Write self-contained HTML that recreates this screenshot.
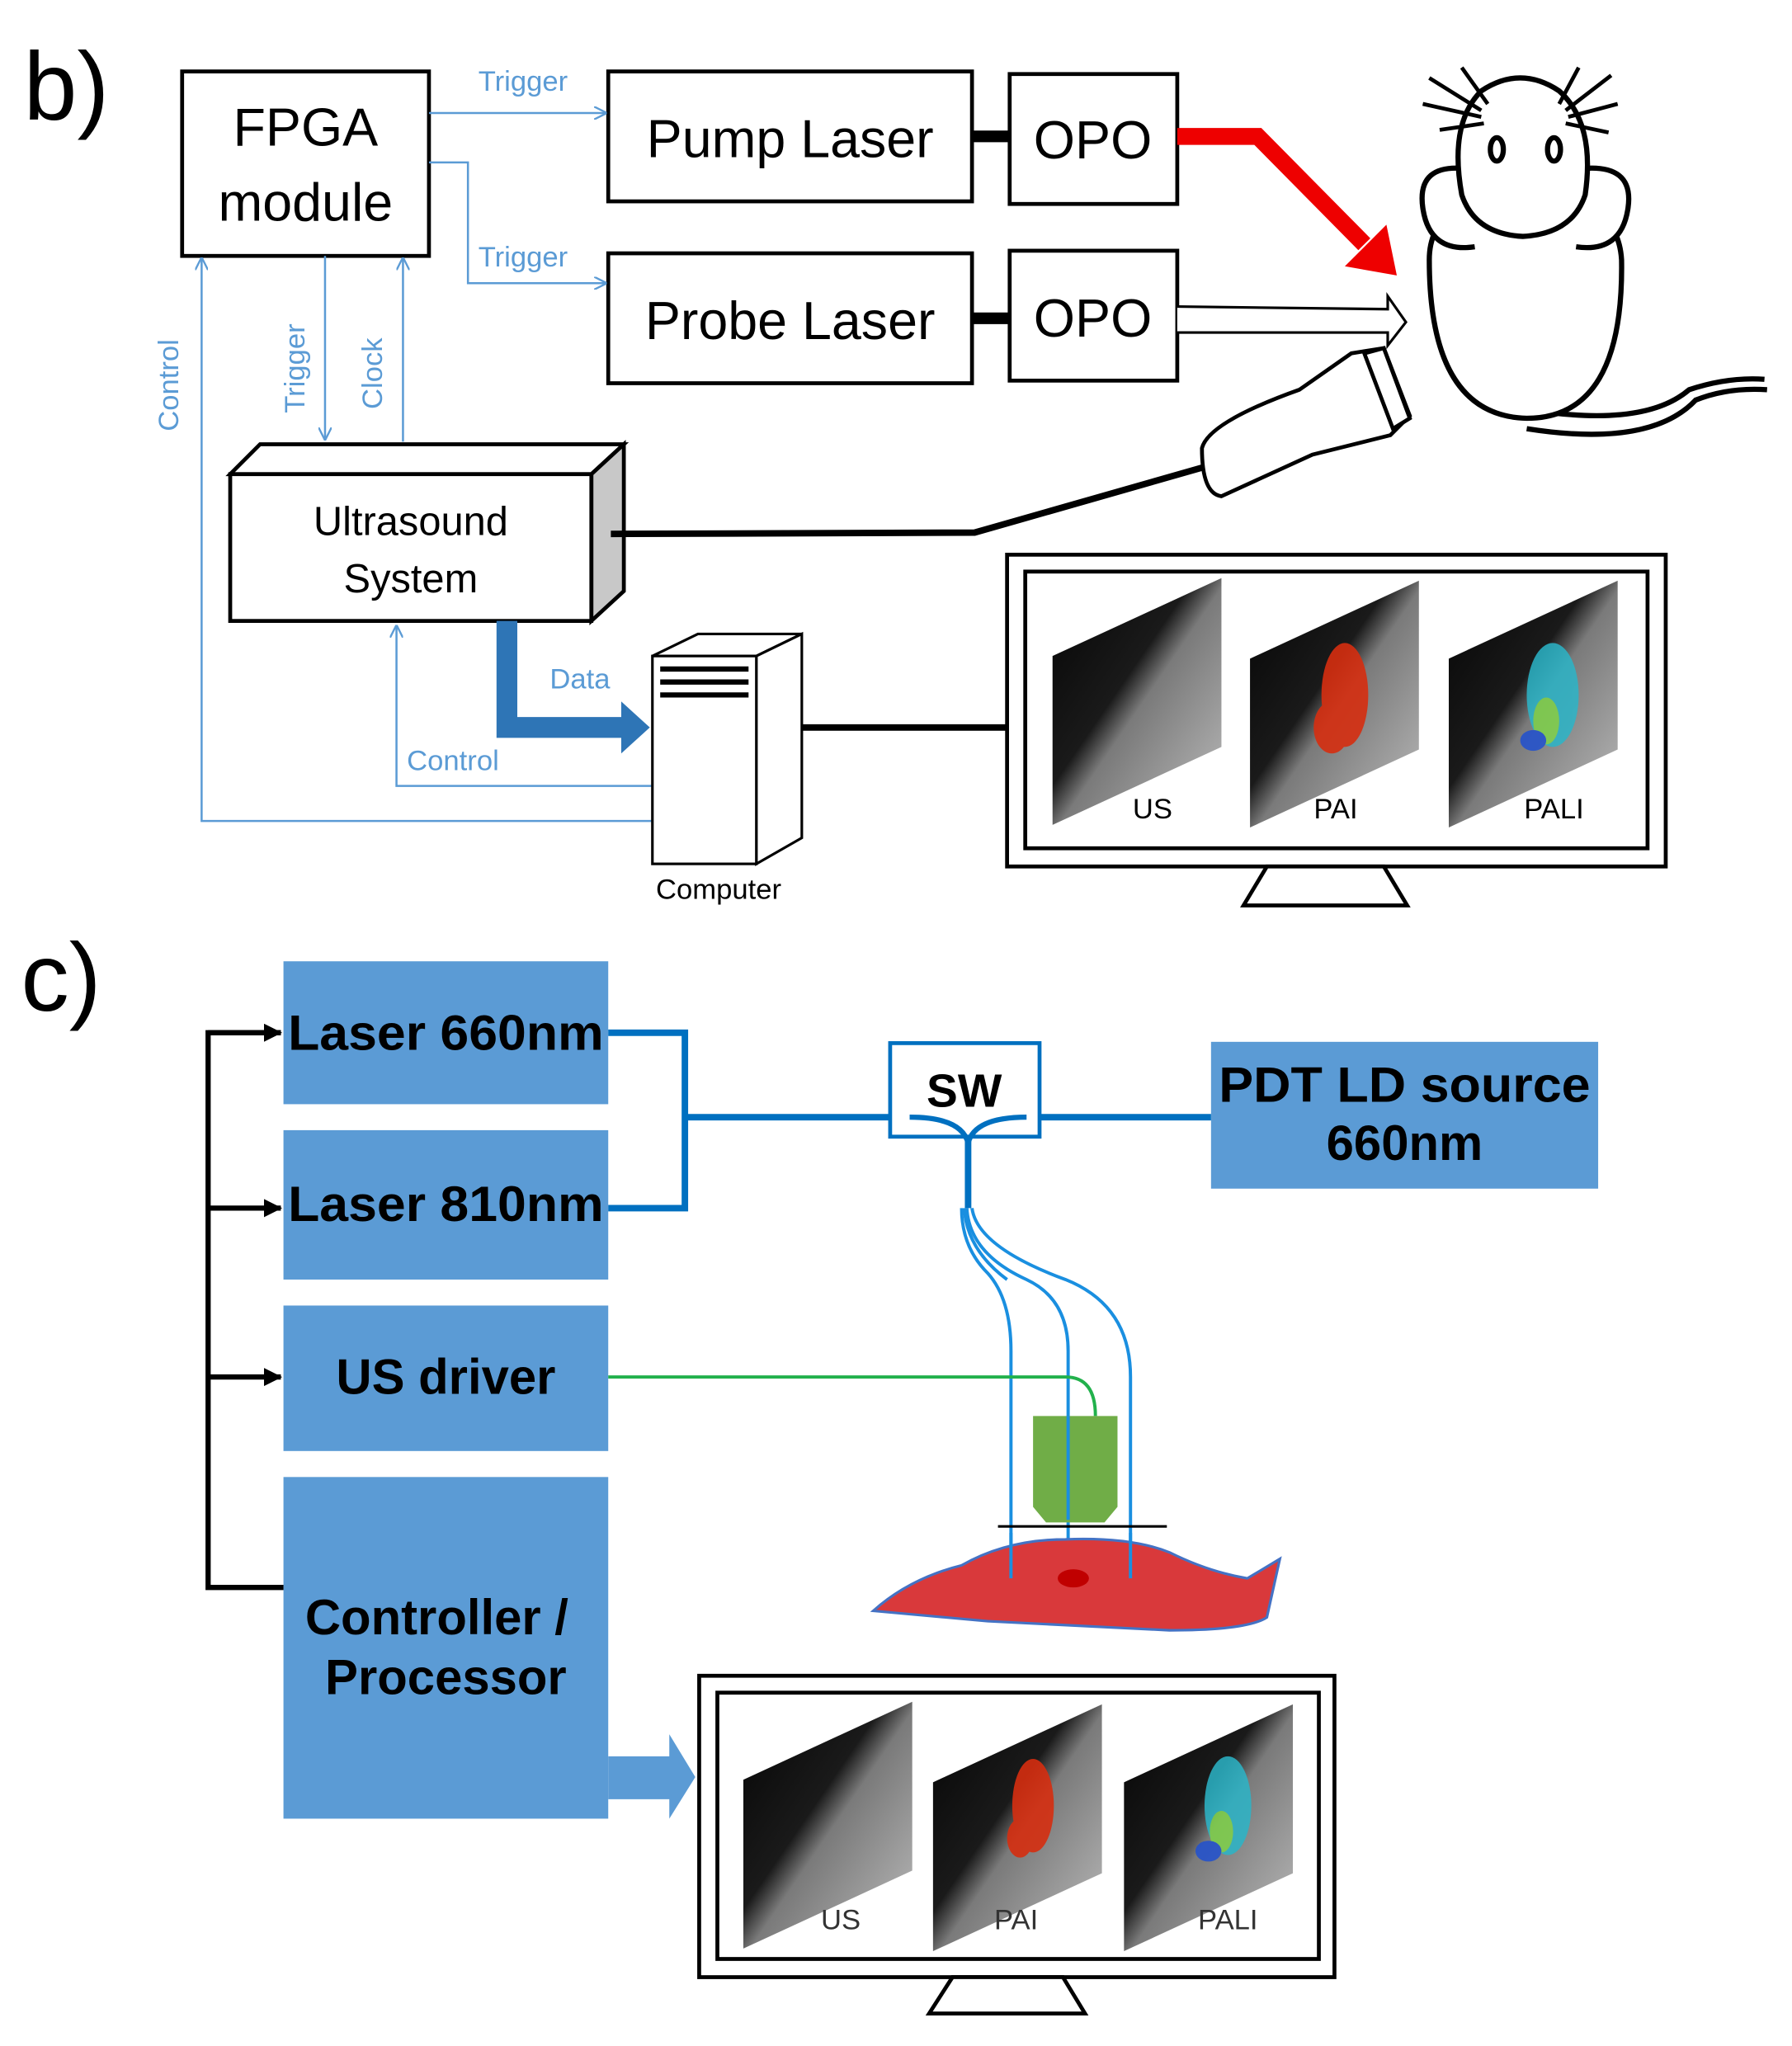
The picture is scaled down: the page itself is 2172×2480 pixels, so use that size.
<!DOCTYPE html>
<html><head><meta charset="utf-8">
<style>html,body{margin:0;padding:0;background:#fff}svg{display:block}</style>
</head><body>
<svg width="2172" height="2480" viewBox="0 0 1379 1575" xmlns="http://www.w3.org/2000/svg" font-family="Liberation Sans, sans-serif">
<defs>
<linearGradient id="us" x1="0" y1="0" x2="1" y2="1">
<stop offset="0" stop-color="#050505"/><stop offset="0.42" stop-color="#1a1a1a"/><stop offset="0.52" stop-color="#7a7a7a"/><stop offset="1" stop-color="#bdbdbd"/>
</linearGradient>
<marker id="ab" markerWidth="10" markerHeight="10" refX="9" refY="5" orient="auto" markerUnits="userSpaceOnUse"><path d="M0,0 L10,5 L0,10" fill="none" stroke="#5b9bd5" stroke-width="1.5"/></marker>
<marker id="ak" markerWidth="14" markerHeight="14" refX="13" refY="7" orient="auto" markerUnits="userSpaceOnUse"><path d="M0,0 L14,7 L0,14 Z" fill="#000"/></marker>
<g id="img">
<polygon points="0,60 130,0 130,130 0,190" fill="url(#us)"/>
</g>
</defs>
<rect width="1379" height="1575" fill="#fff"/>
<!-- b) -->
<text x="18" y="92" font-size="74">b)</text>
<g fill="none" stroke="#000" stroke-width="3">
<rect x="140" y="55" width="190" height="142"/>
<rect x="468" y="55" width="280" height="100"/>
<rect x="777" y="57" width="129" height="100"/>
<rect x="468" y="195" width="280" height="100"/>
<rect x="777" y="193" width="129" height="100"/>
</g>
<line x1="748" y1="105" x2="777" y2="105" stroke="#000" stroke-width="9"/>
<line x1="748" y1="245" x2="777" y2="245" stroke="#000" stroke-width="9"/>
<g font-size="41" text-anchor="middle">
<text x="235" y="112">FPGA</text><text x="235" y="170">module</text>
<text x="608" y="121">Pump Laser</text><text x="841" y="122">OPO</text>
<text x="608" y="261">Probe Laser</text><text x="841" y="259">OPO</text>
</g>
<g stroke="#5b9bd5" stroke-width="1.6" fill="none">
<polyline points="330,87 466,87" marker-end="url(#ab)"/>
<polyline points="330,125 360,125 360,218 466,218" marker-end="url(#ab)"/>
<polyline points="502,632 155,632 155,199" marker-end="url(#ab)"/>
<polyline points="250,197 250,338" marker-end="url(#ab)"/>
<polyline points="310,340 310,199" marker-end="url(#ab)"/>
<polyline points="502,605 305,605 305,482" marker-end="url(#ab)"/>
</g>
<g fill="#5b9bd5" font-size="22">
<text x="368" y="70">Trigger</text><text x="368" y="205">Trigger</text>
<text x="313" y="593">Control</text><text x="423" y="530">Data</text>
<text transform="translate(137,332) rotate(-90)">Control</text>
<text transform="translate(234,318) rotate(-90)">Trigger</text>
<text transform="translate(294,315) rotate(-90)">Clock</text>
</g>
<!-- ultrasound box -->
<polygon points="177,365 200,342 480,342 455,365" fill="#fff" stroke="#000" stroke-width="3"/>
<polygon points="455,365 480,342 480,455 455,478" fill="#c8c8c8" stroke="#000" stroke-width="3"/>
<rect x="177" y="365" width="278" height="113" fill="#fff" stroke="#000" stroke-width="3"/>
<text x="316" y="412" font-size="31" text-anchor="middle">Ultrasound</text>
<text x="316" y="456" font-size="31" text-anchor="middle">System</text>
<polyline points="470,411 750,410 925,360" fill="none" stroke="#000" stroke-width="5"/>
<!-- probe -->
<path d="M925,345 Q930,325 1000,300 L1040,272 L1065,268 L1085,320 L1070,335 L1010,350 L940,382 Q925,380 925,345 Z" fill="#fff" stroke="#000" stroke-width="3"/>
<path d="M1050,272 L1065,268 L1085,322 L1072,330 Z" fill="#fff" stroke="#000" stroke-width="3"/>
<!-- red arrow -->
<polyline points="906,105 968,105 1050,188" fill="none" stroke="#e00" stroke-width="13"/>
<polygon points="1075,212 1035,205 1067,173" fill="#e00"/>
<!-- hollow arrow -->
<path d="M906,236 L1068,238 L1068,228 L1082,248 L1068,266 L1068,256 L906,256" fill="#fff" stroke="#000" stroke-width="2"/>
<!-- mouse -->
<g fill="#fff" stroke="#000" stroke-width="4">
<path d="M1175,315 Q1265,330 1300,300 Q1330,290 1358,292" fill="none"/>
<path d="M1175,330 Q1270,345 1305,308 Q1330,298 1360,300" fill="none"/>
<path d="M1100,200 Q1100,320 1175,322 Q1250,322 1248,200 Q1245,150 1175,150 Q1100,150 1100,200 Z"/>
<path d="M1130,130 Q1090,125 1095,160 Q1100,195 1135,190"/>
<path d="M1215,130 Q1258,125 1253,160 Q1248,195 1213,190"/>
<path d="M1125,150 Q1115,95 1140,70 Q1170,50 1200,70 Q1228,95 1220,150 Q1210,180 1172,182 Q1135,180 1125,150 Z"/>
</g>
<g stroke="#000" stroke-width="3">
<line x1="1140" y1="85" x2="1100" y2="60"/><line x1="1140" y1="90" x2="1095" y2="80"/><line x1="1142" y1="95" x2="1108" y2="100"/><line x1="1145" y1="80" x2="1125" y2="52"/>
<line x1="1205" y1="85" x2="1240" y2="58"/><line x1="1207" y1="90" x2="1245" y2="80"/><line x1="1205" y1="95" x2="1238" y2="102"/><line x1="1200" y1="80" x2="1215" y2="52"/>
</g>
<ellipse cx="1152" cy="115" rx="5" ry="9" fill="#fff" stroke="#000" stroke-width="4"/><ellipse cx="1196" cy="115" rx="5" ry="9" fill="#fff" stroke="#000" stroke-width="4"/>
<!-- data arrow -->
<polyline points="390,478 390,560 482,560" fill="none" stroke="#2e75b6" stroke-width="16"/>
<polygon points="500,560 478,540 478,580" fill="#2e75b6"/>
<!-- computer -->
<polygon points="502,505 537,488 617,488 582,505" fill="#fff" stroke="#000" stroke-width="2"/>
<polygon points="582,505 617,488 617,645 582,665" fill="#fff" stroke="#000" stroke-width="2"/>
<rect x="502" y="505" width="80" height="160" fill="#fff" stroke="#000" stroke-width="2"/>
<g stroke="#000" stroke-width="4"><line x1="508" y1="515" x2="576" y2="515"/><line x1="508" y1="525" x2="576" y2="525"/><line x1="508" y1="535" x2="576" y2="535"/></g>
<text x="553" y="692" font-size="22" text-anchor="middle">Computer</text>
<line x1="617" y1="560" x2="775" y2="560" stroke="#000" stroke-width="5"/>
<!-- monitor 1 -->
<rect x="775" y="427" width="507" height="240" fill="#fff" stroke="#000" stroke-width="3"/>
<rect x="789" y="440" width="479" height="213" fill="#fff" stroke="#000" stroke-width="3"/>
<polygon points="975,667 1065,667 1083,697 957,697" fill="#fff" stroke="#000" stroke-width="3"/>
<use href="#img" x="810" y="445"/>
<use href="#img" x="962" y="447"/>
<use href="#img" x="1115" y="447"/>
<g fill="#d62e10" opacity="0.9"><ellipse cx="1035" cy="535" rx="18" ry="40"/><ellipse cx="1025" cy="560" rx="14" ry="20"/></g>
<g opacity="0.85"><ellipse cx="1195" cy="535" rx="20" ry="40" fill="#2bb5c8"/><ellipse cx="1190" cy="555" rx="10" ry="18" fill="#7fd34a"/><ellipse cx="1180" cy="570" rx="10" ry="8" fill="#2050d0"/></g>
<g font-size="22" text-anchor="middle" fill="#000"><text x="887" y="630">US</text><text x="1028" y="630">PAI</text><text x="1196" y="630">PALI</text></g>
<!-- c) -->
<text x="16" y="778" font-size="74">c)</text>
<g fill="#5b9bd5">
<rect x="218" y="740" width="250" height="110"/>
<rect x="218" y="870" width="250" height="115"/>
<rect x="218" y="1005" width="250" height="112"/>
<rect x="218" y="1137" width="250" height="263"/>
<rect x="932" y="802" width="298" height="113"/>
</g>
<g font-size="38" font-weight="bold" fill="#000" text-anchor="middle">
<text x="343" y="808" textLength="243" lengthAdjust="spacingAndGlyphs">Laser 660nm</text>
<text x="343" y="940" textLength="243" lengthAdjust="spacingAndGlyphs">Laser 810nm</text>
<text x="343" y="1073">US driver</text>
<text x="336" y="1258">Controller /</text>
<text x="343" y="1304">Processor</text>
<text x="1081" y="848" textLength="286" lengthAdjust="spacingAndGlyphs">PDT LD source</text>
<text x="1081" y="893">660nm</text>
</g>
<polyline points="216,795 160,795 160,1222 218,1222" fill="none" stroke="#000" stroke-width="4"/>
<g stroke="#000" stroke-width="4" marker-end="url(#ak)"><line x1="160" y1="795" x2="216" y2="795"/><line x1="160" y1="930" x2="216" y2="930"/><line x1="160" y1="1060" x2="216" y2="1060"/></g>
<g fill="none" stroke="#0070c0" stroke-width="5">
<polyline points="468,795 527,795 527,930 468,930"/>
<line x1="527" y1="860" x2="685" y2="860"/><line x1="800" y1="860" x2="932" y2="860"/>
</g>
<rect x="685" y="803" width="115" height="72" fill="#fff" stroke="#0070c0" stroke-width="3"/>
<text x="742" y="852" font-size="36" font-weight="bold" text-anchor="middle">SW</text>
<path d="M700,860 Q740,860 745,880 Q750,860 790,860" fill="none" stroke="#0070c0" stroke-width="4"/>
<line x1="745" y1="878" x2="745" y2="930" stroke="#0070c0" stroke-width="5"/>
<g fill="none" stroke="#1a8fe0" stroke-width="2.5">
<path d="M740,930 Q740,960 760,980 Q778,1000 778,1040 L778,1215"/>
<path d="M744,930 Q746,965 790,985 Q822,1000 822,1040 L822,1210"/>
<path d="M748,930 Q752,960 820,985 Q870,1005 870,1060 L870,1215"/>
<path d="M742,930 Q744,962 775,985"/>
</g>
<path d="M468,1060 L820,1060 Q843,1060 843,1090" fill="none" stroke="#22b14c" stroke-width="2.5"/>
<path d="M795,1090 L860,1090 L860,1160 L850,1172 L805,1172 L795,1160 Z" fill="#70ad47"/>
<line x1="822" y1="1090" x2="822" y2="1170" stroke="#1a8fe0" stroke-width="2.5"/>
<line x1="768" y1="1175" x2="898" y2="1175" stroke="#000" stroke-width="2"/>
<path d="M672,1240 Q700,1215 740,1205 Q775,1185 820,1185 Q870,1183 900,1195 Q930,1210 960,1215 L985,1200 L975,1245 Q960,1255 900,1255 L760,1248 Z" fill="#d9393b" stroke="#4472c4" stroke-width="2"/>
<g stroke="#1a8fe0" stroke-width="2.5"><line x1="778" y1="1180" x2="778" y2="1215"/><line x1="870" y1="1180" x2="870" y2="1215"/></g>
<ellipse cx="826" cy="1215" rx="12" ry="7" fill="#c00000"/>
<!-- blue arrow -->
<polygon points="468,1352 515,1352 515,1335 535,1368 515,1400 515,1385 468,1385" fill="#5b9bd5"/>
<!-- monitor 2 -->
<rect x="538" y="1290" width="489" height="232" fill="#fff" stroke="#000" stroke-width="3"/>
<rect x="552" y="1303" width="463" height="205" fill="#fff" stroke="#000" stroke-width="3"/>
<polygon points="733,1522 818,1522 835,1550 715,1550" fill="#fff" stroke="#000" stroke-width="3"/>
<use href="#img" x="572" y="1310"/>
<use href="#img" x="718" y="1312"/>
<use href="#img" x="865" y="1312"/>
<g fill="#d62e10" opacity="0.9"><ellipse cx="795" cy="1390" rx="16" ry="36"/><ellipse cx="785" cy="1415" rx="10" ry="15"/></g>
<g opacity="0.85"><ellipse cx="945" cy="1390" rx="18" ry="38" fill="#2bb5c8"/><ellipse cx="940" cy="1410" rx="9" ry="16" fill="#7fd34a"/><ellipse cx="930" cy="1425" rx="10" ry="8" fill="#2050d0"/></g>
<g font-size="22" text-anchor="middle" fill="#333"><text x="647" y="1485">US</text><text x="782" y="1485">PAI</text><text x="945" y="1485">PALI</text></g>
</svg>
</body></html>
